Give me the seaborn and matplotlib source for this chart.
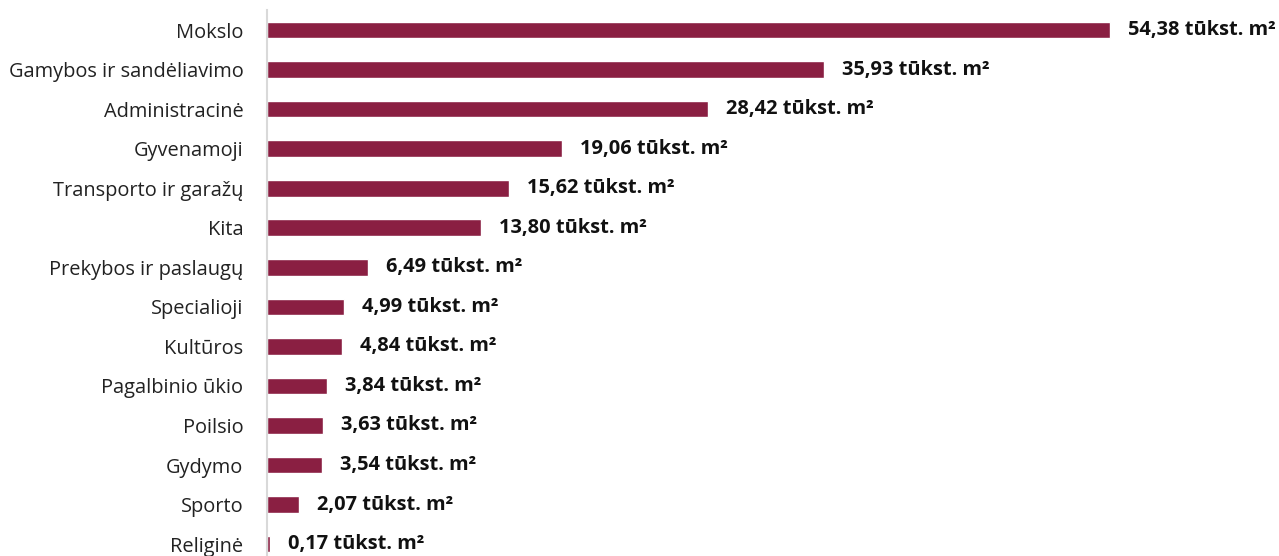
import matplotlib
matplotlib.use("Agg")
import matplotlib.pyplot as plt
import seaborn as sns
import pandas as pd

categories = ["Mokslo", "Gamybos ir sandėliavimo", "Administracinė", "Gyvenamoji",
              "Transporto ir garažų", "Kita", "Prekybos ir paslaugų", "Specialioji",
              "Kultūros", "Pagalbinio ūkio", "Poilsio", "Gydymo", "Sporto", "Religinė"]
values = [54.38, 35.93, 28.42, 19.06, 15.62, 13.80, 6.49, 4.99, 4.84, 3.84, 3.63, 3.54, 2.07, 0.17]
unit = "tūkst. m²"

df = pd.DataFrame({"cat": categories, "val": values})

sns.set_theme(style="white")
plt.rcParams['font.family'] = ['Open Sans', 'DejaVu Sans']

fig = plt.figure(figsize=(12.79, 5.56), dpi=100)
ax = fig.add_axes([267/1279, 0, 1 - 267/1279, 1 - 10/556])
sns.barplot(data=df, x="val", y="cat", orient="h", color="#8A1F42",
            width=0.42, saturation=1, ax=ax)
ax.set_xlim(0, (1279 - 267) / 15.5)
ax.set_ylim(13.3, -0.506)
ax.set_xlabel("")
ax.set_ylabel("")
ax.set_xticks([])
for s in ["top", "right", "bottom"]:
    ax.spines[s].set_visible(False)
ax.spines["left"].set_color("#D9D9D9")
ax.spines["left"].set_linewidth(1.5)
ax.tick_params(axis="y", length=0, pad=17, labelsize=14.4, labelcolor="#222222")

for i, v in enumerate(values):
    ax.annotate(f"{v:.2f}".replace(".", ",") + " " + unit, xy=(v, i),
                xytext=(13, 0), textcoords="offset points", va="center", ha="left",
                fontsize=14.4, fontweight="bold", color="#111111")

fig.savefig("out.png", dpi=100)
